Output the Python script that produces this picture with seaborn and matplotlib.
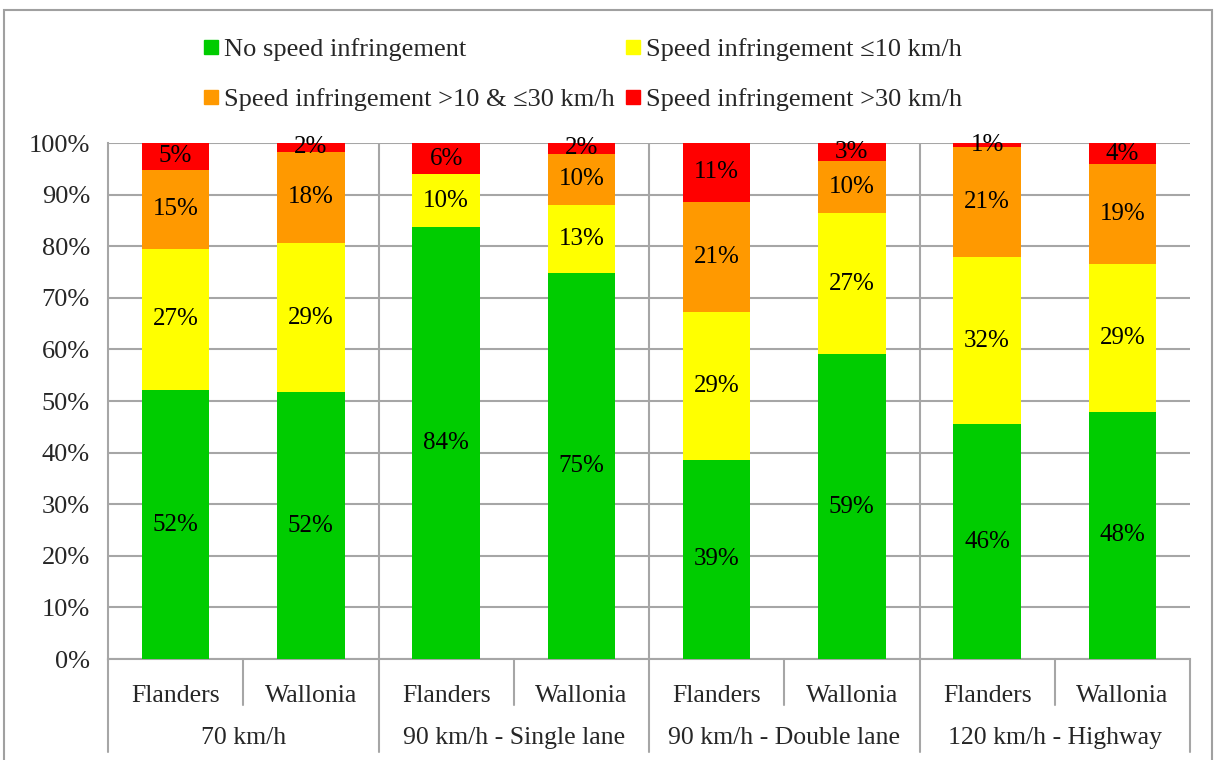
import numpy as np
import pandas as pd
import seaborn as sns
import matplotlib.pyplot as plt
import matplotlib.transforms as mtransforms
from matplotlib.lines import Line2D
from matplotlib.patches import Rectangle

# data (percent of vehicles)
speed_zones = ['70 km/h', '90 km/h - Single lane', '90 km/h - Double lane', '120 km/h - Highway']
regions = ['Flanders', 'Wallonia']
no_infringement = [52.1, 51.7, 83.7, 74.8, 38.6, 59.1, 45.5, 47.9]
up_to_10 = [27.4, 28.9, 10.2, 13.2, 28.6, 27.3, 32.4, 28.6]
from_10_to_30 = [15.3, 17.7, 0.0, 9.9, 21.4, 10.2, 21.4, 19.4]
above_30 = [5.2, 1.7, 6.1, 2.1, 11.4, 3.4, 0.7, 4.1]

series_names = ['No speed infringement', 'Speed infringement \u226410 km/h',
                'Speed infringement >10 & \u226430 km/h', 'Speed infringement >30 km/h']
colors = ['#00CC00', '#FFFF00', '#FF9900', '#FF0000']

bar_ids = [z + ' | ' + r for z in speed_zones for r in regions]
df = pd.DataFrame({'bar': bar_ids,
                   series_names[0]: no_infringement,
                   series_names[1]: up_to_10,
                   series_names[2]: from_10_to_30,
                   series_names[3]: above_30})

sns.set_theme(style='white')
plt.rcParams['font.family'] = ['Liberation Serif', 'DejaVu Serif']
grid_col = '#A6A6A6'

fig = plt.figure(figsize=(12.15, 7.6), dpi=100)
ax = fig.add_axes([108 / 1215, 1 - 659 / 760, (1190 - 108) / 1215, (659 - 143) / 760])

# stacked bars: draw cumulative totals, tallest first
cum = df[series_names].cumsum(axis=1)
for name, col in reversed(list(zip(series_names, colors))):
    sns.barplot(x=df['bar'], y=cum[name], order=bar_ids, color=col,
                width=0.5, saturation=1, linewidth=0, ax=ax, zorder=3)

# value labels in the middle of each segment
for i in range(len(df)):
    bottom = 0
    for name in series_names:
        v = df[name].iloc[i]
        if v > 0:
            ax.text(i, bottom + v / 2, f'{v:.0f}%', ha='center', va='center',
                    fontsize=18, color='black', zorder=5)
        bottom += v

ax.set_ylim(0, 100)
ax.set_xlim(-0.5, len(df) - 0.5)
ax.set_yticks(np.arange(0, 101, 10))
ax.set_yticklabels([f'{t}%' for t in range(0, 101, 10)], fontsize=19)
ax.set_ylabel('')
ax.set_xlabel('')
ax.set_xticks(range(len(df)))
ax.set_xticklabels(regions * len(speed_zones), fontsize=18.5)
ax.tick_params(axis='x', length=0, pad=19)
ax.tick_params(axis='y', length=7, width=1.5, color=grid_col, direction='out', pad=6)

ax.yaxis.grid(True, color=grid_col, linewidth=1.5, zorder=0)
ax.set_xticks(np.arange(1.5, len(df) - 1, 2), minor=True)
ax.xaxis.grid(True, which='minor', color=grid_col, linewidth=1.5, zorder=0)
ax.set_axisbelow(True)
for s in ['top', 'right']:
    ax.spines[s].set_visible(False)
for s in ['left', 'bottom']:
    ax.spines[s].set_color(grid_col)
    ax.spines[s].set_linewidth(1.5)

# multi-level category axis
trans = mtransforms.blended_transform_factory(ax.transData, ax.transAxes)
for b in np.arange(-0.5, len(df), 1):
    depth = -0.18 if (b + 0.5) % 2 == 0 else -0.09
    ax.plot([b, b], [0, depth], transform=trans, color=grid_col, lw=1.5, clip_on=False)
for g, zone in enumerate(speed_zones):
    ax.text(2 * g + 0.5, -0.153, zone, transform=trans, ha='center', va='center', fontsize=18.5)

# legend
handles = [Line2D([], [], marker='s', linestyle='', markersize=10, color=c) for c in colors]
order = [0, 2, 1, 3]
fig.legend([handles[k] for k in order], [series_names[k] for k in order],
           ncol=2, loc='upper left', bbox_to_anchor=(179 / 1215, 1 - 14 / 760),
           frameon=False, fontsize=19, handlelength=0.6, handletextpad=0.2,
           columnspacing=0.4, labelspacing=1.0)

# chart border
fig.add_artist(Rectangle((4 / 1215, -0.05), (1212 - 4) / 1215, 1.05 - 10 / 760,
                         transform=fig.transFigure, fill=False, edgecolor='#A0A0A0', lw=1.5))

plt.savefig('out.png', dpi=100)
